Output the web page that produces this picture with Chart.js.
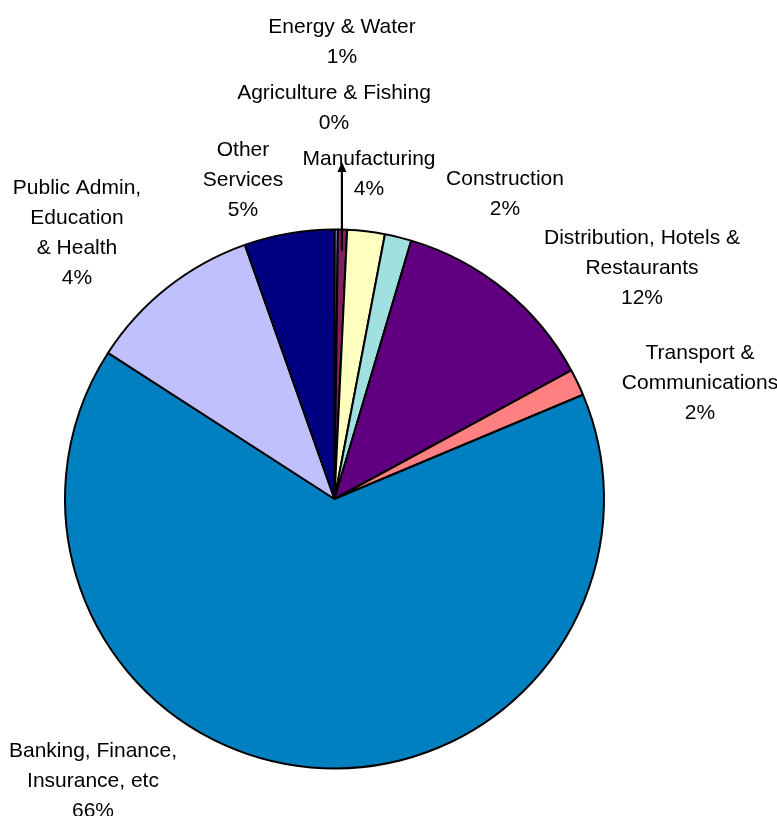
<!DOCTYPE html>
<html>
<head>
<meta charset="utf-8">
<script src="https://cdn.jsdelivr.net/npm/chart.js@4/dist/chart.umd.min.js"></script>
<style>
  html, body { margin: 0; padding: 0; background: #fff; }
  #wrap { width: 777px; height: 816px; }
</style>
</head>
<body>
<div id="wrap"><canvas id="chart" width="777" height="816"></canvas></div>
<script>
// categories, clockwise from 12 o'clock
const categories = [
  ['Agriculture & Fishing'],
  ['Energy & Water'],
  ['Manufacturing'],
  ['Construction'],
  ['Distribution, Hotels &', 'Restaurants'],
  ['Transport &', 'Communications'],
  ['Banking, Finance,', 'Insurance, etc'],
  ['Public Admin,', 'Education', '& Health'],
  ['Other', 'Services']
];
// slice shares (%)
const shares = [0.2, 0.55, 2.25, 1.6, 12.5, 1.6, 65.5, 10.5, 5.4];
// percentages printed in the data labels
const pctLabels = ['0%', '1%', '4%', '2%', '12%', '2%', '66%', '4%', '5%'];
const sliceColors = ['#9999FF', '#802060', '#FFFFC0', '#A0E0E0', '#600080',
  '#FF8080', '#0080C0', '#C0C0FF', '#000080'];

// label placement (centre x, middle of first line) - layout only
const labelPos = [
  [334, 91], [342, 25], [369, 157], [505, 177], [642, 236],
  [700, 351], [93, 749], [77, 186], [243, 148]
];
const FONT_SIZE = 21;
const LINE_H = 30;

const labelsPlugin = {
  id: 'sliceLabels',
  afterDraw(chart) {
    const ctx = chart.ctx;
    const arcs = chart.getDatasetMeta(0).data;
    ctx.save();

    // arrow from the Energy & Water slice
    const a = arcs[1];
    const mid = (a.startAngle + a.endAngle) / 2;
    const x0 = a.x + Math.cos(mid) * (a.outerRadius - 21);
    const y0 = a.y + Math.sin(mid) * (a.outerRadius - 21);
    const tipY = 162;
    ctx.strokeStyle = '#000';
    ctx.fillStyle = '#000';
    ctx.lineWidth = 2.2;
    ctx.beginPath();
    ctx.moveTo(x0, y0);
    ctx.lineTo(x0, tipY + 8);
    ctx.stroke();
    ctx.beginPath();
    ctx.moveTo(x0, tipY);
    ctx.lineTo(x0 - 4.5, tipY + 10);
    ctx.lineTo(x0 + 4.5, tipY + 10);
    ctx.closePath();
    ctx.fill();

    ctx.font = FONT_SIZE + 'px "Liberation Sans", Arial, sans-serif';
    ctx.textAlign = 'center';
    ctx.textBaseline = 'alphabetic';
    ctx.fillStyle = '#000';
    const capHalf = FONT_SIZE * 0.358;
    categories.forEach((lines, i) => {
      const [cx, cy] = labelPos[i];
      const all = lines.concat([pctLabels[i]]);
      all.forEach((t, j) => {
        ctx.fillText(t, cx, cy + j * LINE_H + capHalf);
      });
    });
    ctx.restore();
  }
};

new Chart(document.getElementById('chart'), {
  type: 'pie',
  data: {
    labels: categories.map((l) => l.join(' ')),
    datasets: [{
      data: shares,
      backgroundColor: sliceColors,
      borderColor: '#000',
      borderWidth: 2
    }]
  },
  options: {
    responsive: false,
    animation: false,
    layout: { padding: { left: 64, right: 172, top: 228, bottom: 46 } },
    plugins: {
      legend: { display: false },
      tooltip: { enabled: false },
      title: { display: false }
    }
  },
  plugins: [labelsPlugin]
});
</script>
</body>
</html>
